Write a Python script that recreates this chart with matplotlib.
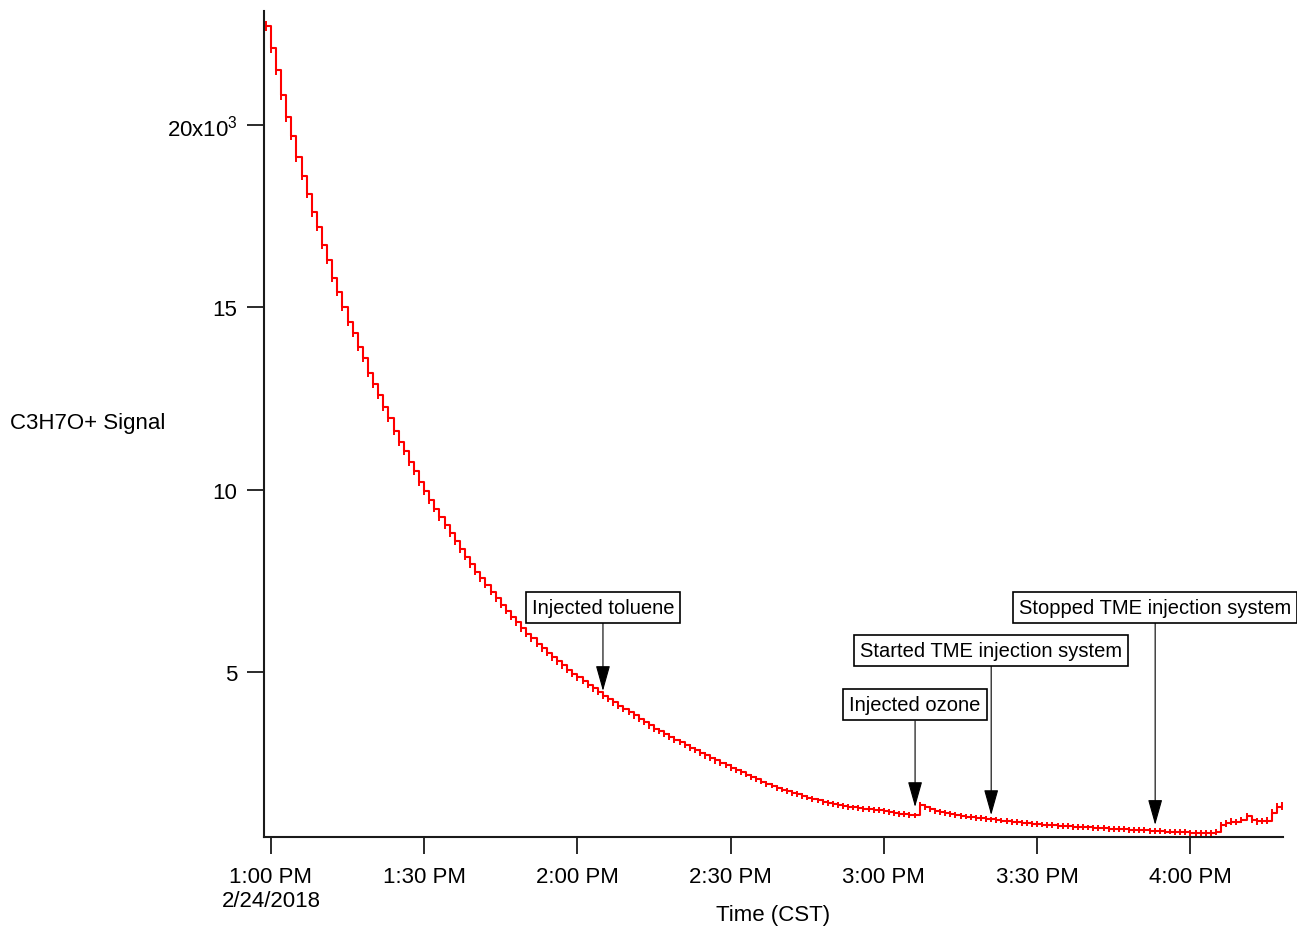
import matplotlib
matplotlib.use("Agg")
import matplotlib.pyplot as plt
import pandas as pd

plt.rcParams['font.family'] = ['Liberation Sans', 'DejaVu Sans']
plt.rcParams['mathtext.fontset'] = 'custom'
plt.rcParams['mathtext.rm'] = 'Liberation Sans'
plt.rcParams['mathtext.it'] = 'Liberation Sans:italic'

# --- data (signal in thousands, one point per minute from 12:59) ---
start_time = "2018-02-24 12:59"
signal = [
    22.7, 22.1, 21.5, 20.8, 20.2, 19.7, 19.1, 18.6, 18.1, 17.6,
    17.2, 16.7, 16.3, 15.8, 15.4, 15.0, 14.6, 14.3, 13.9, 13.6,
    13.2, 12.9, 12.6, 12.25, 11.95, 11.6, 11.3, 11.05, 10.75, 10.5,
    10.2, 9.95, 9.7, 9.48, 9.25, 9.02, 8.8, 8.58, 8.37, 8.16,
    7.95, 7.75, 7.57, 7.38, 7.2, 7.02, 6.85, 6.68, 6.52, 6.36,
    6.2, 6.05, 5.92, 5.78, 5.65, 5.52, 5.4, 5.29, 5.18, 5.06,
    4.95, 4.85, 4.75, 4.64, 4.55, 4.45, 4.35, 4.26, 4.17, 4.08,
    3.99, 3.9, 3.81, 3.72, 3.63, 3.54, 3.45, 3.38, 3.3, 3.23,
    3.15, 3.08, 3.0, 2.93, 2.86, 2.79, 2.72, 2.65, 2.58, 2.51,
    2.45, 2.38, 2.32, 2.25, 2.19, 2.12, 2.06, 2.0, 1.94, 1.89,
    1.83, 1.78, 1.73, 1.69, 1.65, 1.6, 1.56, 1.52, 1.48, 1.45,
    1.41, 1.38, 1.36, 1.33, 1.31, 1.29, 1.27, 1.25, 1.24, 1.22,
    1.21, 1.19, 1.17, 1.14, 1.12, 1.11, 1.09, 1.07, 1.35, 1.30,
    1.24, 1.19, 1.16, 1.13, 1.10, 1.08, 1.06, 1.04, 1.02, 1.00,
    0.99, 0.97, 0.96, 0.94, 0.93, 0.91, 0.90, 0.88, 0.87, 0.86,
    0.84, 0.83, 0.82, 0.81, 0.80, 0.79, 0.78, 0.77, 0.76, 0.76,
    0.75, 0.74, 0.73, 0.72, 0.72, 0.71, 0.70, 0.69, 0.69, 0.68,
    0.67, 0.66, 0.66, 0.65, 0.65, 0.64, 0.63, 0.63, 0.62, 0.61,
    0.61, 0.60, 0.59, 0.60, 0.59, 0.59, 0.61, 0.80, 0.85, 0.90,
    0.89, 0.95, 1.05, 0.94, 0.91, 0.92, 0.93, 1.15, 1.30, 1.34,
]
signal_err = [
    0.14, 0.14, 0.13, 0.13, 0.13, 0.13, 0.12, 0.12, 0.12, 0.12,
    0.12, 0.12, 0.12, 0.12, 0.11, 0.11, 0.11, 0.11, 0.11, 0.11,
    0.11, 0.11, 0.11, 0.11, 0.10, 0.10, 0.10, 0.10, 0.10, 0.10,
    0.10, 0.10, 0.10, 0.10, 0.10, 0.10, 0.10, 0.10, 0.10, 0.10,
    0.10, 0.10, 0.09, 0.09, 0.09, 0.09, 0.09, 0.09, 0.09, 0.09,
    0.09, 0.09, 0.09, 0.09, 0.09, 0.09, 0.09, 0.09, 0.09, 0.09,
    0.09, 0.09, 0.09, 0.09, 0.09, 0.09, 0.09, 0.09, 0.09, 0.09,
    0.09, 0.09, 0.09, 0.09, 0.09, 0.09, 0.09, 0.09, 0.09, 0.09,
    0.09, 0.09, 0.09, 0.09, 0.09, 0.09, 0.09, 0.09, 0.09, 0.09,
    0.09, 0.09, 0.08, 0.08, 0.08, 0.08, 0.08, 0.08, 0.08, 0.08,
    0.08, 0.08, 0.08, 0.08, 0.08, 0.08, 0.08, 0.08, 0.08, 0.08,
    0.08, 0.08, 0.08, 0.08, 0.08, 0.08, 0.08, 0.08, 0.08, 0.08,
    0.08, 0.08, 0.08, 0.08, 0.08, 0.08, 0.08, 0.08, 0.09, 0.09,
    0.08, 0.08, 0.08, 0.08, 0.08, 0.08, 0.08, 0.08, 0.08, 0.08,
    0.08, 0.08, 0.08, 0.08, 0.08, 0.08, 0.08, 0.08, 0.08, 0.08,
    0.08, 0.08, 0.08, 0.08, 0.08, 0.08, 0.08, 0.08, 0.08, 0.08,
    0.08, 0.08, 0.08, 0.08, 0.08, 0.08, 0.08, 0.08, 0.08, 0.08,
    0.08, 0.08, 0.08, 0.08, 0.08, 0.08, 0.08, 0.08, 0.08, 0.08,
    0.08, 0.08, 0.08, 0.08, 0.08, 0.08, 0.08, 0.09, 0.09, 0.09,
    0.09, 0.09, 0.10, 0.09, 0.09, 0.09, 0.09, 0.10, 0.11, 0.11,
]

tick_times = ["2018-02-24 13:00", "2018-02-24 13:30", "2018-02-24 14:00",
              "2018-02-24 14:30", "2018-02-24 15:00", "2018-02-24 15:30",
              "2018-02-24 16:00"]
tick_labels = ["1:00 PM\n2/24/2018", "1:30 PM", "2:00 PM", "2:30 PM",
               "3:00 PM", "3:30 PM", "4:00 PM"]
y_ticks = [5, 10, 15, 20]
y_tick_labels = ["5", "10", "15", "20x10$^{3}$"]

note_labels = ["Injected toluene", "Injected ozone",
               "Started TME injection system", "Stopped TME injection system"]
note_times = ["2018-02-24 14:05", "2018-02-24 15:06:06",
              "2018-02-24 15:21", "2018-02-24 15:53:06"]
note_tip = [4.48, 1.30, 1.08, 0.81]
note_box = [6.78, 4.10, 5.60, 6.78]

times = pd.date_range(start_time, periods=len(signal), freq="1min").to_pydatetime()

fig = plt.figure(figsize=(12.97, 9.28), dpi=100)
ax = fig.add_axes([0.2035, 0.097, 0.786, 0.89])

ax.errorbar(times, signal, yerr=signal_err, color="#ff0000", ecolor="#ff0000",
            lw=1.5, elinewidth=1.4, capsize=0, drawstyle="steps-post")

ax.set_xlim(pd.Timestamp("2018-02-24 12:58:38"), pd.Timestamp("2018-02-24 16:18:12"))
ax.set_ylim(0.48, 23.11)

ax.set_xticks([pd.Timestamp(t) for t in tick_times])
ax.set_xticklabels(tick_labels)
ax.set_yticks(y_ticks)
ax.set_yticklabels(y_tick_labels)
ax.minorticks_off()

for s in ["top", "right"]:
    ax.spines[s].set_visible(False)
for s in ["left", "bottom"]:
    ax.spines[s].set_linewidth(1.5)
    ax.spines[s].set_color("#1a1a1a")

ax.tick_params(axis="both", direction="out", length=12, width=1.3,
               labelsize=16, colors="#1a1a1a", labelcolor="black")
ax.tick_params(axis="x", pad=9)
ax.tick_params(axis="y", pad=7)

for lab, t, tip, box in zip(note_labels, note_times, note_tip, note_box):
    ax.annotate(lab, xy=(pd.Timestamp(t), tip), xytext=(pd.Timestamp(t), box),
                ha="center", va="center", fontsize=14.5, annotation_clip=False,
                bbox=dict(boxstyle="square,pad=0.3", fc="white", ec="black", lw=1.2),
                arrowprops=dict(arrowstyle="-|>,head_length=1.6,head_width=0.45",
                                mutation_scale=10, color="black", lw=0.8,
                                shrinkA=0, shrinkB=0))

fig.text(0.0075, 1 - 424 / 928, "C3H7O+ Signal", fontsize=16, va="center", ha="left")
fig.text(773 / 1297, 1 - 916 / 928, "Time (CST)", fontsize=16, va="center", ha="center")

fig.savefig("out.png", dpi=100)
